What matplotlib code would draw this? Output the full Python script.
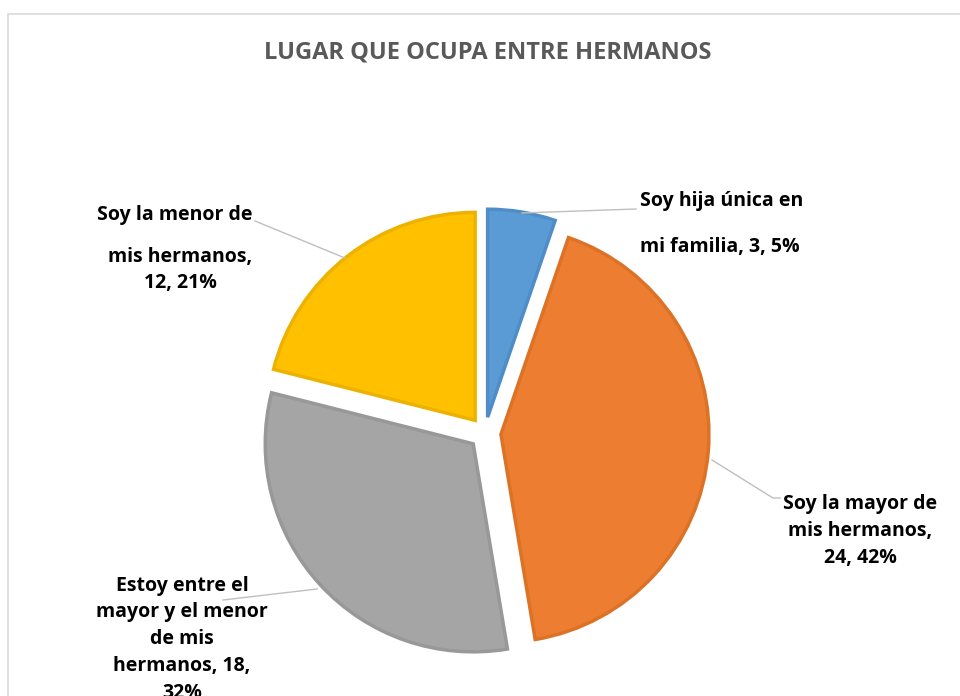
import matplotlib.pyplot as plt
import matplotlib.patches as mpatches

categories = [
    "Soy hija única en mi familia",
    "Soy la mayor de mis hermanos",
    "Estoy entre el mayor y el menor de mis hermanos",
    "Soy la menor de mis hermanos",
]
values = [3, 24, 18, 12]
percents = ["5%", "42%", "32%", "21%"]
colors = ["#5B9BD5", "#ED7D31", "#A5A5A5", "#FFC000"]
edge_colors = ["#4F8DC8", "#DC7226", "#989898", "#EDB200"]

W, H = 960, 696


def Y(y):
    # picture rows counted from the top
    return H - y


fig = plt.figure(figsize=(9.6, 6.96), dpi=100)
ax = fig.add_axes([0, 0, 1, 1])

wedges, _ = ax.pie(
    values,
    colors=colors,
    startangle=90,
    counterclock=False,
    explode=[16] * 4,
    center=(485, Y(433)),
    radius=208,
    wedgeprops=dict(linewidth=2.5),
)
for w, ec in zip(wedges, edge_colors):
    w.set_edgecolor(ec)

ax.set_xlim(0, W)
ax.set_ylim(0, H)
ax.set_aspect("equal")
ax.axis("off")

# chart frame
ax.add_patch(mpatches.Rectangle((8, -20), W, Y(14) + 20, fill=False,
                                edgecolor="#D9D9D9", linewidth=1.2))

ax.text(488, Y(53), "LUGAR QUE OCUPA ENTRE HERMANOS", ha="center", va="center",
        fontsize=17, fontweight="bold", color="#595959", family="Open Sans")

font = dict(fontsize=14, fontweight="bold", color="black", family="Open Sans",
            linespacing=1.45)
line_color = "#BFBFBF"

# blue label
ax.text(640, Y(201), "Soy hija única en", ha="left", va="center", **font)
ax.text(640, Y(247), f"mi familia, {values[0]}, {percents[0]}", ha="left", va="center", **font)
ax.plot([522, 636], [Y(213), Y(209)], color=line_color, lw=1)

# orange label
ax.text(860, Y(531), f"Soy la mayor de\nmis hermanos,\n{values[1]}, {percents[1]}",
        ha="center", va="center", **font)
ax.plot([712, 773, 780], [Y(460), Y(498), Y(498)], color=line_color, lw=1)

# gray label (bottom line is cut by the picture edge, as in the original)
ax.text(182, Y(639), f"Estoy entre el\nmayor y el menor\nde mis\nhermanos, {values[2]},\n{percents[2]}",
        ha="center", va="center", **font)
ax.plot([223, 317], [Y(600), Y(589)], color=line_color, lw=1)

# yellow label
ax.text(175, Y(215), "Soy la menor de", ha="center", va="center", **font)
ax.text(180, Y(270), f"mis hermanos,\n{values[3]}, {percents[3]}",
        ha="center", va="center", **font)
ax.plot([255, 345], [Y(221), Y(258)], color=line_color, lw=1)

fig.savefig("out.png", dpi=100, facecolor="white")
